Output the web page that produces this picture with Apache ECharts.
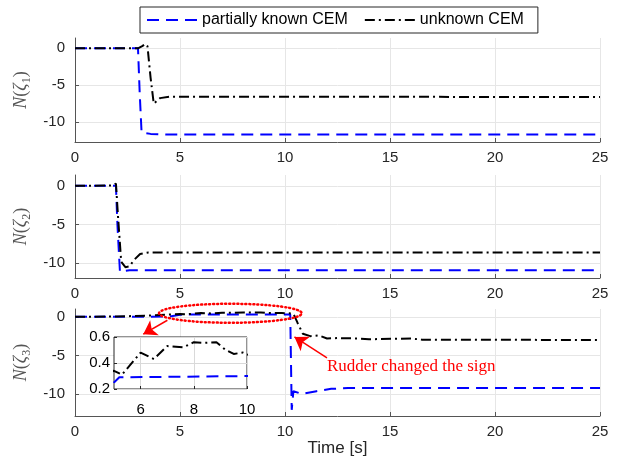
<!DOCTYPE html>
<html>
<head>
<meta charset="utf-8">
<script src="https://cdn.jsdelivr.net/npm/echarts@6/dist/echarts.min.js"></script>
<style>
  html, body { margin: 0; padding: 0; background: #fff; }
  #chart { width: 619px; height: 464px; }
</style>
</head>
<body>
<div id="chart"></div>
<script>
  // legend names
  var seriesNames = ['partially known CEM', 'unknown CEM']

  // N(zeta_1)
  var t1Known = [0, 3.0, 3.08, 3.17, 3.6, 4.5, 25]
  var n1Known = [0, 0, -6, -11.4, -11.6, -11.7, -11.7]
  var t1Unknown = [0, 3.0, 3.2, 3.35, 3.45, 3.6, 3.75, 4.05, 4.5, 25]
  var n1Unknown = [0, 0, 0.3, 0.6, 0.3, -4, -7.5, -6.75, -6.55, -6.6]

  // N(zeta_2)
  var t2Known = [0, 1.95, 2.02, 2.14, 2.6, 25]
  var n2Known = [0, 0, -5, -11.1, -10.9, -10.9]
  var t2Unknown = [0, 1.8, 1.95, 2.05, 2.2, 2.4, 2.6, 2.8, 3.1, 3.5, 25]
  var n2Unknown = [0, 0.05, 0.3, -4, -9.8, -10.5, -10.4, -9.6, -8.8, -8.6, -8.6]

  // N(zeta_3)
  var t3Known = [0, 4.5, 5.0, 5.2, 10.25, 10.32, 10.4, 10.8, 11.5, 12.2, 13, 25]
  var n3Known = [0, 0.02, 0.25, 0.29, 0.3, -12, -9.6, -9.95, -9.6, -9.3, -9.2, -9.2]
  var t3Unknown = [0, 2, 3.5, 4.5, 5, 5.3, 6, 6.5, 7, 7.6, 8, 8.4, 8.85, 9.2, 9.5, 9.85, 10.2, 10.4,
    10.6, 10.85, 11.2, 11.6, 12, 12.5, 13.5, 14, 16, 16.5, 25]
  var n3Unknown = [0, 0.03, 0.15, 0.3, 0.34, 0.31, 0.48, 0.43, 0.53, 0.52, 0.56, 0.555, 0.56, 0.5, 0.47, 0.48, 0.45, 0.4,
    -0.8, -2.2, -2.5, -2.4, -2.8, -2.75, -2.8, -2.9, -2.8, -2.95, -3.0]

  // tick labels
  var xTicks = [0, 5, 10, 15, 20, 25]
  var yTicks = [-10, -5, 0]
  var insetXTicks = [6, 8, 10]
  var insetYTicks = [0.2, 0.4, 0.6]

  function zip(t, v) {
    return t.map(function (x, i) { return [x, v[i]] })
  }

  var knownStyle = { color: '#0000ff', width: 2, type: [12, 7] }
  var unknownStyle = { color: '#000000', width: 2, type: [10, 4, 2, 4] }

  var grids = [
    { left: 75, top: 38, width: 525, height: 104 },
    { left: 75, top: 175, width: 525, height: 103 },
    { left: 75, top: 309, width: 525, height: 107 },
    { left: 114, top: 337, width: 133, height: 52, show: true, z: 3,
      backgroundColor: '#fff', borderColor: '#262626', borderWidth: 1 }
  ]
  var yRanges = [[-12.7, 1.4], [-11.9, 1.4], [-12.8, 1.0]]

  function mainX(i) {
    var ax = {
      type: 'value', gridIndex: i, min: 0, max: 25, interval: 5,
      axisLine: { onZero: false, lineStyle: { color: '#555' } },
      axisTick: { inside: true, length: 4, lineStyle: { color: '#555' } },
      axisLabel: { fontSize: 15, color: '#262626', margin: 8 },
      splitLine: { show: true, lineStyle: { color: '#e6e6e6' } }
    }
    if (i === 2) {
      ax.name = 'Time [s]'
      ax.nameLocation = 'middle'
      ax.nameGap = 24
      ax.nameTextStyle = { fontSize: 17, color: '#262626' }
    }
    return ax
  }

  function mainY(i) {
    return {
      type: 'value', gridIndex: i, min: yRanges[i][0], max: yRanges[i][1],
      name: '{i|N}(' + '{i|ζ}{s|' + (i + 1) + '})',
      nameLocation: 'middle', nameGap: 38, nameRotate: 90,
      nameTextStyle: {
        fontFamily: 'Liberation Serif', fontSize: 18, color: '#555', lineHeight: 22,
        rich: {
          i: { fontStyle: 'italic', fontFamily: 'Liberation Serif', fontSize: 18, color: '#555', lineHeight: 22 },
          s: { fontFamily: 'Liberation Serif', fontSize: 12, color: '#555', lineHeight: 22, verticalAlign: 'bottom' }
        }
      },
      axisLine: { show: true, lineStyle: { color: '#555' } },
      axisTick: { show: true, inside: true, length: 4, customValues: yTicks, lineStyle: { color: '#555' } },
      axisLabel: { fontSize: 15, color: '#262626', margin: 10, customValues: yTicks },
      splitLine: { show: true, lineStyle: { color: '#e6e6e6' } }
    }
  }

  var xAxes = [mainX(0), mainX(1), mainX(2), {
    type: 'value', gridIndex: 3, min: 5, max: 10, z: 3,
    axisLine: { show: false },
    axisTick: { inside: true, length: 3, customValues: insetXTicks, lineStyle: { color: '#262626' } },
    axisLabel: { fontSize: 15, color: '#000', margin: 13, customValues: insetXTicks },
    splitLine: { show: true, lineStyle: { color: '#d9d9d9' } }
  }]
  var yAxes = [mainY(0), mainY(1), mainY(2), {
    type: 'value', gridIndex: 3, min: 0.2, max: 0.6, z: 3,
    axisLine: { show: false },
    axisTick: { inside: true, length: 3, customValues: insetYTicks, lineStyle: { color: '#262626' } },
    axisLabel: { fontSize: 15, color: '#000', margin: 4, customValues: insetYTicks,
      formatter: function (v) { return v.toFixed(1) } },
    splitLine: { show: true, lineStyle: { color: '#d9d9d9' } }
  }]

  var known = [zip(t1Known, n1Known), zip(t2Known, n2Known), zip(t3Known, n3Known)]
  var unknown = [zip(t1Unknown, n1Unknown), zip(t2Unknown, n2Unknown), zip(t3Unknown, n3Unknown)]

  var series = []
  for (var i = 0; i < 3; i++) {
    series.push({ name: seriesNames[0], type: 'line', xAxisIndex: i, yAxisIndex: i, data: known[i],
      showSymbol: false, symbol: 'none', lineStyle: knownStyle, itemStyle: { color: '#0000ff' }, z: 2 })
    series.push({ name: seriesNames[1], type: 'line', xAxisIndex: i, yAxisIndex: i, data: unknown[i],
      showSymbol: false, symbol: 'none', lineStyle: unknownStyle, itemStyle: { color: '#000' }, z: 2 })
  }
  // zoomed inset, same data as the third plot
  series.push({ name: seriesNames[0], type: 'line', xAxisIndex: 3, yAxisIndex: 3, data: known[2],
    showSymbol: false, symbol: 'none', lineStyle: knownStyle, itemStyle: { color: '#0000ff' }, z: 4 })
  series.push({ name: seriesNames[1], type: 'line', xAxisIndex: 3, yAxisIndex: 3, data: unknown[2],
    showSymbol: false, symbol: 'none', lineStyle: unknownStyle, itemStyle: { color: '#000' }, z: 4 })

  // arrows of the annotations
  series[5].markLine = {
    silent: true, symbol: ['none', 'arrow'], symbolSize: 13, z: 6,
    label: { show: false },
    lineStyle: { color: '#ff0000', width: 1.5, type: 'solid' },
    data: [
      [{ coord: [12.0, -5.3] }, { coord: [10.45, -2.6] }],
      [{ coord: [4.4, -0.45] }, { coord: [3.25, -2.25] }]
    ]
  }

  var chart = echarts.init(document.getElementById('chart'))
  chart.setOption({
    animation: false,
    textStyle: { fontFamily: 'Liberation Sans' },
    legend: {
      data: seriesNames, left: 140, top: 7,
      itemWidth: 50, itemHeight: 14, itemGap: 16,
      padding: [5, 14, 5, 6],
      itemStyle: { opacity: 0, borderWidth: 0 },
      borderColor: '#262626', borderWidth: 1, backgroundColor: '#fff',
      textStyle: { fontSize: 16, color: '#000' }
    },
    grid: grids,
    xAxis: xAxes,
    yAxis: yAxes,
    series: series
  })

  // ellipse and text placed through the third plot's scales
  var c = chart.convertToPixel({ gridIndex: 2 }, [7.4, 0.45])
  var l = chart.convertToPixel({ gridIndex: 2 }, [4.0, 0.45])
  var txt = chart.convertToPixel({ gridIndex: 2 }, [12.0, -6.4])
  chart.setOption({
    graphic: [
      { type: 'ellipse', z: 10, silent: true,
        shape: { cx: c[0], cy: c[1], rx: c[0] - l[0], ry: 9.5 },
        style: { fill: 'none', stroke: '#ff0000', lineWidth: 2.5, lineDash: [1, 3], lineCap: 'round' } },
      { type: 'text', z: 10, silent: true, x: txt[0], y: txt[1],
        style: { text: 'Rudder changed the sign', fill: '#ff0000', fontSize: 17,
          fontFamily: 'Liberation Serif', verticalAlign: 'middle' } }
    ]
  })
</script>
</body>
</html>
